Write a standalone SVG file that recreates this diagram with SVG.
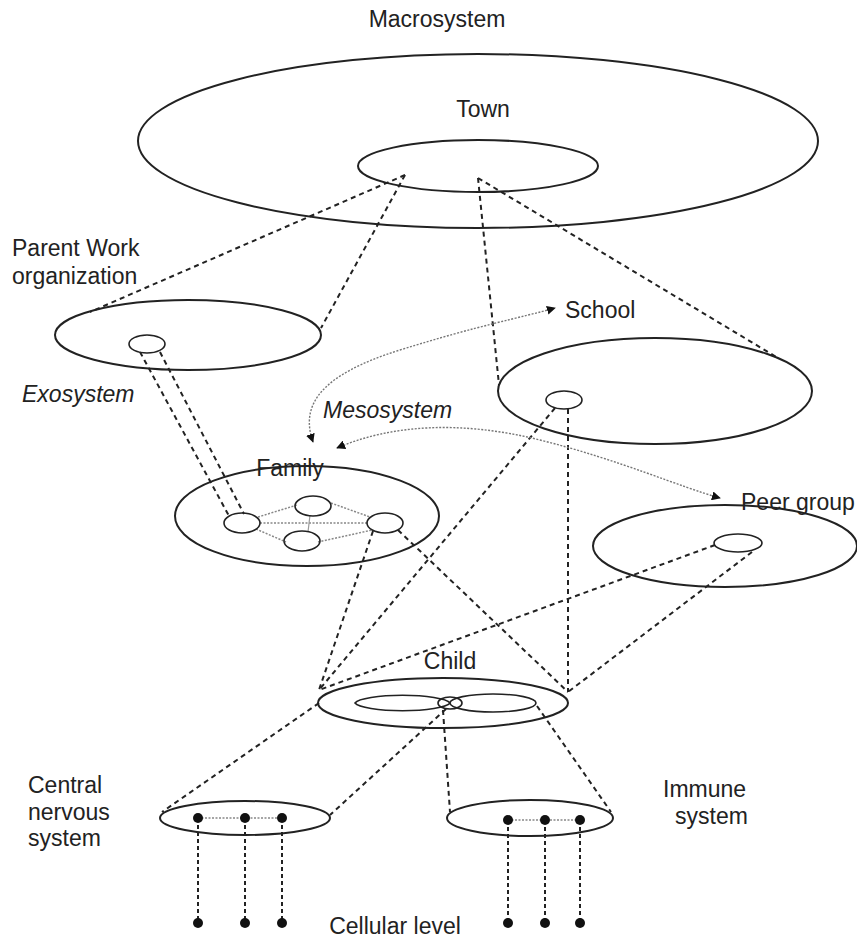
<svg xmlns="http://www.w3.org/2000/svg" width="857" height="941" viewBox="0 0 857 941">
<defs>
<style>
text{font-family:"Liberation Sans",Arial,sans-serif;font-size:23px;fill:#222}
.it{font-style:italic}
.e{fill:none;stroke:#222;stroke-width:2}
.s{fill:none;stroke:#222;stroke-width:1.6}
.d{fill:none;stroke:#222;stroke-width:2;stroke-dasharray:5 4}
.dv{fill:none;stroke:#222;stroke-width:2;stroke-dasharray:4 3}
.g{fill:none;stroke:#888;stroke-width:1.5;stroke-dasharray:2 1.5}
.m{fill:none;stroke:#777;stroke-width:1.4;stroke-dasharray:2 1.5}
.dot{fill:#111}
</style>
<marker id="ah" viewBox="0 0 10 10" refX="9" refY="5" markerWidth="9" markerHeight="9" markerUnits="userSpaceOnUse" orient="auto-start-reverse">
<path d="M0,0 L10,5 L0,10 z" fill="#111"/>
</marker>
</defs>
<rect width="857" height="941" fill="#fff"/>

<g id="connectors">
<line class="d" x1="405" y1="175" x2="90" y2="312"/>
<line class="d" x1="405" y1="175" x2="321" y2="328"/>
<line class="d" x1="478" y1="178" x2="499" y2="385"/>
<line class="d" x1="478" y1="178" x2="778" y2="358"/>
<line class="d" x1="140" y1="352" x2="229" y2="516"/>
<line class="d" x1="160" y1="352" x2="244" y2="514"/>
<line class="d" x1="555" y1="408" x2="319" y2="690"/>
<line class="d" x1="568" y1="409" x2="568" y2="692"/>
<line class="d" x1="373" y1="531" x2="319" y2="690"/>
<line class="d" x1="398" y1="530" x2="568" y2="692"/>
<line class="d" x1="715" y1="545" x2="319" y2="690"/>
<line class="d" x1="752" y1="552" x2="568" y2="692"/>
<line class="d" x1="319" y1="703" x2="162" y2="812"/>
<line class="d" x1="446" y1="709" x2="330" y2="815"/>
<line class="d" x1="443" y1="710" x2="450" y2="812"/>
<line class="d" x1="537" y1="706" x2="611" y2="812"/>
<line class="dv" x1="198" y1="818" x2="198" y2="923"/>
<line class="dv" x1="245" y1="818" x2="245" y2="923"/>
<line class="dv" x1="282" y1="818" x2="282" y2="923"/>
<line class="dv" x1="508" y1="820" x2="508" y2="923"/>
<line class="dv" x1="545" y1="820" x2="545" y2="923"/>
<line class="dv" x1="580" y1="820" x2="580" y2="923"/>
<path class="m" d="M313 442 C300 405 320 375 400 350 S520 318 555 308" marker-start="url(#ah)" marker-end="url(#ah)"/>
<path class="m" d="M337 448 C390 425 460 420 540 440 S680 487 720 498" marker-start="url(#ah)" marker-end="url(#ah)"/>
</g>

<g id="macrosystem">
<text x="437" y="27" text-anchor="middle">Macrosystem</text>
<ellipse class="e" cx="478" cy="141" rx="340" ry="87"/>
</g>

<g id="town">
<text x="483" y="117" text-anchor="middle">Town</text>
<ellipse class="e" cx="478" cy="166" rx="120" ry="26"/>
</g>

<g id="parent-work">
<text x="12" y="256">Parent Work</text>
<text x="12" y="284">organization</text>
<ellipse class="e" cx="188" cy="335" rx="133" ry="35"/>
<ellipse class="s" cx="147" cy="344" rx="18" ry="9"/>
<text class="it" x="22" y="402">Exosystem</text>
</g>

<g id="mesosystem-label">
<text class="it" x="323" y="418">Mesosystem</text>
</g>

<g id="school">
<text x="565" y="318">School</text>
<ellipse class="e" cx="655" cy="391" rx="157" ry="53"/>
<ellipse class="s" cx="564" cy="400" rx="18" ry="9"/>
</g>

<g id="peer-group">
<text x="741" y="510">Peer group</text>
<ellipse class="e" cx="725" cy="546" rx="132" ry="41"/>
<ellipse class="s" cx="738" cy="543" rx="24" ry="9"/>
</g>

<g id="family">
<text x="290" y="476" text-anchor="middle">Family</text>
<ellipse class="e" cx="307" cy="516" rx="132" ry="50"/>
<line class="g" x1="258" y1="517" x2="297" y2="505"/>
<line class="g" x1="331" y1="503" x2="370" y2="517"/>
<line class="g" x1="260" y1="523" x2="367" y2="523"/>
<line class="g" x1="256" y1="529" x2="286" y2="542"/>
<line class="g" x1="318" y1="542" x2="372" y2="530"/>
<line x1="310" y1="515" x2="308" y2="532" stroke="#999" stroke-width="1.2"/>
<ellipse class="s" cx="242" cy="523" rx="18" ry="10"/>
<ellipse class="s" cx="313" cy="506" rx="18" ry="10"/>
<ellipse class="s" cx="385" cy="523" rx="18" ry="10"/>
<ellipse class="s" cx="302" cy="541" rx="18" ry="10"/>
</g>

<g id="child">
<text x="450" y="669" text-anchor="middle">Child</text>
<ellipse class="e" cx="443" cy="703" rx="125" ry="25"/>
<path class="s" d="M450 703 A48 9 0 0 0 355 703 A48 9 0 0 0 450 703 A43 9 0 0 0 536 703 A43 9 0 0 0 450 703 Z"/>
<ellipse class="s" cx="450" cy="703" rx="12" ry="6" fill="#fff"/>
</g>

<g id="cns">
<text x="28" y="793">Central</text>
<text x="28" y="820">nervous</text>
<text x="28" y="846">system</text>
<ellipse class="e" cx="245" cy="818" rx="85" ry="17"/>
<line class="g" x1="198" y1="818" x2="282" y2="818"/>
<circle class="dot" cx="198" cy="818" r="5"/>
<circle class="dot" cx="245" cy="818" r="5"/>
<circle class="dot" cx="282" cy="818" r="5"/>
</g>

<g id="immune">
<text x="663" y="797">Immune</text>
<text x="675" y="824">system</text>
<ellipse class="e" cx="530" cy="818" rx="83" ry="18"/>
<line class="g" x1="508" y1="820" x2="580" y2="820"/>
<circle class="dot" cx="508" cy="820" r="5"/>
<circle class="dot" cx="545" cy="820" r="5"/>
<circle class="dot" cx="580" cy="820" r="5"/>
</g>

<g id="cellular">
<text x="395" y="934" text-anchor="middle">Cellular level</text>
<circle class="dot" cx="198" cy="923" r="5"/>
<circle class="dot" cx="245" cy="923" r="5"/>
<circle class="dot" cx="282" cy="923" r="5"/>
<circle class="dot" cx="508" cy="923" r="5"/>
<circle class="dot" cx="545" cy="923" r="5"/>
<circle class="dot" cx="580" cy="923" r="5"/>
</g>
</svg>
